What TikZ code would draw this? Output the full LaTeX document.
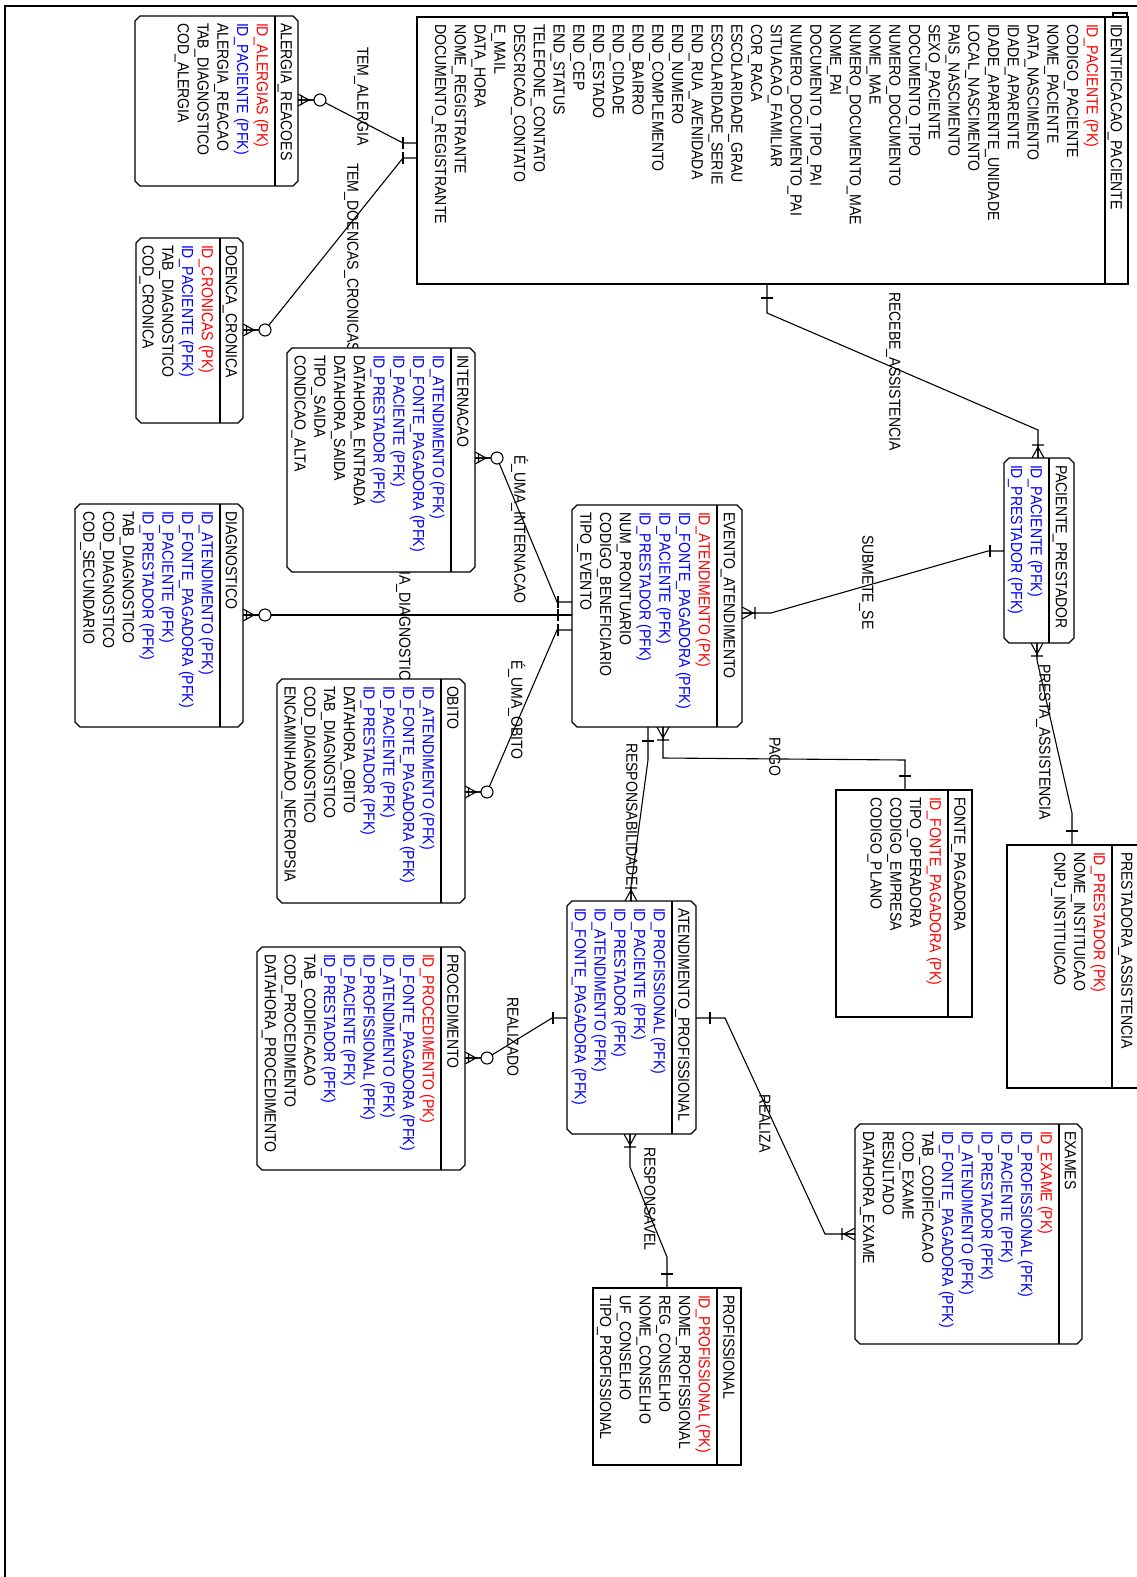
\documentclass[tikz,border=0pt]{standalone}
\usepackage{fontspec}
\setmainfont{Liberation Sans}[FakeStretch=0.88]
\usetikzlibrary{fit}

\definecolor{ckp}{RGB}{255,0,0}
\definecolor{cfk}{RGB}{0,0,255}
\definecolor{cat}{RGB}{0,0,0}

\tikzset{
  txt/.style={rotate=-90, anchor=west, inner sep=0pt, outer sep=0pt,
    text height=11.5pt, text depth=0pt, font=\fontsize{16pt}{19pt}\selectfont},
  entline/.style={line width=1.3pt, draw=black},
  conn/.style={line width=1.1pt, draw=black},
  frameline/.style={line width=2.8pt, line join=miter},
}

% entity outlines
\newcommand\drawsq[1]{\draw[entline, fill=white] (#1.north west) rectangle (#1.south east);}
\newcommand\drawch[1]{\draw[entline, fill=white]
  ([xshift=5pt]#1.north west) -- ([xshift=-5pt]#1.north east) -- ([yshift=-5pt]#1.north east)
  -- ([yshift=5pt]#1.south east) -- ([xshift=-5pt]#1.south east) -- ([xshift=5pt]#1.south west)
  -- ([yshift=5pt]#1.south west) -- ([yshift=-5pt]#1.north west) -- cycle;}

% #1 name, #2 outline (sq/ch), #3 left, #4 top, #5 right, #6 bottom, #7 title rule, #8 title, #9 rows
\newcommand\entity[9]{%
  \node[fit={(#3,#4) (#5,#6)}, inner sep=0pt, outer sep=0pt] (#1) {};
  \csname draw#2\endcsname{#1}
  \draw[entline] (#7,#4) -- (#7,#6);
  \node[txt] (#1-t) at ({(#5+#7)/2},{#4+7}) {#8};
  \foreach \c/\t [count=\i] in {#9} {
    \node[txt, text=\c] (#1-r\i) at ({#7-12.5-(\i-1)*19.75},{#4+7}) {\t};
  }%
}

% cardinality marks: #1 point on the entity edge, #2 outward direction
\newcommand\gone[2]{\begin{scope}[shift={(#1)}, rotate=#2]
  \draw[conn] (14,-6) -- (14,6);\end{scope}}
\newcommand\gmany[2]{\begin{scope}[shift={(#1)}, rotate=#2]
  \draw[conn] (0,-6) -- (11,0) -- (0,6) (0,0) -- (14,0) (13,-6) -- (13,6);\end{scope}}
\newcommand\gzero[2]{\begin{scope}[shift={(#1)}, rotate=#2]
  \draw[conn] (0,-6) -- (11,0) -- (0,6) (0,0) -- (16,0) (3.5,-5) -- (3.5,5);
  \fill (11,0) circle[radius=1.3pt];
  \draw[conn, fill=white] (22,0) circle[radius=6pt];\end{scope}}

\begin{document}
\begin{tikzpicture}[x=1pt, y=-1pt]
\useasboundingbox (0,0) rectangle (1136,1577);
\fill[white] (0,0) rectangle (1136,1577);

% page frame
\draw[frameline] (5,1580) -- (5,6) -- (1140,6);

% relationship names
\node[txt] (l-alergia) at (363,47) {TEM\_ALERGIA};
\node[txt] (l-doenca) at (353,163) {TEM\_DOENCAS\_CRONICAS};
\node[txt] (l-recebe) at (895,292) {RECEBE\_ASSISTENCIA};
\node[txt] (l-submete) at (868,535) {SUBMETE\_SE};
\node[txt] (l-intern) at (520,455) {É\_UMA\_INTERNACAO};
\node[txt] (l-diag) at (405,571.5) {IA\_DIAGNOSTICO};
\node[txt] (l-obito) at (517,660) {É\_UMA\_OBITO};
\node[txt] (l-pago) at (775,737) {PAGO};
\node[txt] (l-resp) at (632,743) {RESPONSABILIDADE};
\node[txt] (l-realizado) at (513,997) {REALIZADO};
\node[txt] (l-realiza) at (765,1094) {REALIZA};
\node[txt] (l-responsavel) at (650,1147) {RESPONSAVEL};
\node[txt] (l-presta) at (1045,664) {PRESTA\_ASSISTENCIA};

% entities
\entity{ident}{sq}{417}{17}{1128}{284}{1105}{IDENTIFICACAO\_PACIENTE}{
  ckp/ID\_PACIENTE (PK), cat/CODIGO\_PACIENTE, cat/NOME\_PACIENTE, cat/DATA\_NASCIMENTO,
  cat/IDADE\_APARENTE, cat/IDADE\_APARENTE\_UNIDADE, cat/LOCAL\_NASCIMENTO, cat/PAIS\_NASCIMENTO,
  cat/SEXO\_PACIENTE, cat/DOCUMENTO\_TIPO, cat/NUMERO\_DOCUMENTO, cat/NOME\_MAE,
  cat/NUMERO\_DOCUMENTO\_MAE, cat/NOME\_PAI, cat/DOCUMENTO\_TIPO\_PAI, cat/NUMERO\_DOCUMENTO\_PAI,
  cat/SITUACAO\_FAMILIAR, cat/COR\_RACA, cat/ESCOLARIDADE\_GRAU, cat/ESCOLARIDADE\_SERIE,
  cat/END\_RUA\_AVENIDADA, cat/END\_NUMERO, cat/END\_COMPLEMENTO, cat/END\_BAIRRO,
  cat/END\_CIDADE, cat/END\_ESTADO, cat/END\_CEP, cat/END\_STATUS, cat/TELEFONE\_CONTATO,
  cat/DESCRICAO\_CONTATO, cat/E\_MAIL, cat/DATA\_HORA, cat/NOME\_REGISTRANTE,
  cat/DOCUMENTO\_REGISTRANTE}
\draw[entline, fill=white] (1113,13) rectangle (1127,17);

\entity{alerg}{ch}{135}{16}{298}{186}{275}{ALERGIA\_REACOES}{
  ckp/ID\_ALERGIAS (PK), cfk/ID\_PACIENTE (PFK), cat/ALERGIA\_REACAO, cat/TAB\_DIAGNOSTICO,
  cat/COD\_ALERGIA}

\entity{doenca}{ch}{136}{238}{243}{423}{220}{DOENCA\_CRONICA}{
  ckp/ID\_CRONICAS (PK), cfk/ID\_PACIENTE (PFK), cat/TAB\_DIAGNOSTICO, cat/COD\_CRONICA}

\entity{intern}{ch}{287}{348}{475}{572}{451}{INTERNACAO}{
  cfk/ID\_ATENDIMENTO (PFK), cfk/ID\_FONTE\_PAGADORA (PFK), cfk/ID\_PACIENTE (PFK),
  cfk/ID\_PRESTADOR (PFK), cat/DATAHORA\_ENTRADA, cat/DATAHORA\_SAIDA, cat/TIPO\_SAIDA,
  cat/CONDICAO\_ALTA}

\entity{diag}{ch}{75}{504}{243}{727}{220}{DIAGNOSTICO}{
  cfk/ID\_ATENDIMENTO (PFK), cfk/ID\_FONTE\_PAGADORA (PFK), cfk/ID\_PACIENTE (PFK),
  cfk/ID\_PRESTADOR (PFK), cat/TAB\_DIAGNOSTICO, cat/COD\_DIAGNOSTICO, cat/COD\_SECUNDARIO}

\entity{obito}{ch}{277}{679}{465}{903}{441}{OBITO}{
  cfk/ID\_ATENDIMENTO (PFK), cfk/ID\_FONTE\_PAGADORA (PFK), cfk/ID\_PACIENTE (PFK),
  cfk/ID\_PRESTADOR (PFK), cat/DATAHORA\_OBITO, cat/TAB\_DIAGNOSTICO, cat/COD\_DIAGNOSTICO,
  cat/ENCAMINHADO\_NECROPSIA}

\entity{evento}{ch}{572}{505}{742}{727}{717}{EVENTO\_ATENDIMENTO}{
  ckp/ID\_ATENDIMENTO (PK), cfk/ID\_FONTE\_PAGADORA (PFK), cfk/ID\_PACIENTE (PFK),
  cfk/ID\_PRESTADOR (PFK), cat/NUM\_PRONTUARIO, cat/CODIGO\_BENEFICIARIO, cat/TIPO\_EVENTO}

\entity{pp}{ch}{1004}{458}{1074}{643}{1049}{PACIENTE\_PRESTADOR}{
  cfk/ID\_PACIENTE (PFK), cfk/ID\_PRESTADOR (PFK)}

\entity{prest}{sq}{1007}{845}{1142}{1088}{1112}{PRESTADORA\_ASSISTENCIA}{
  ckp/ID\_PRESTADOR (PK), cat/NOME\_INSTITUICAO, cat/CNPJ\_INSTITUICAO}

\entity{fonte}{sq}{836}{790}{972}{1017}{948}{FONTE\_PAGADORA}{
  ckp/ID\_FONTE\_PAGADORA (PK), cat/TIPO\_OPERADORA, cat/CODIGO\_EMPRESA, cat/CODIGO\_PLANO}

\entity{atprof}{ch}{567}{901}{696}{1134}{672}{ATENDIMENTO\_PROFISSIONAL}{
  cfk/ID\_PROFISSIONAL (PFK), cfk/ID\_PACIENTE (PFK), cfk/ID\_PRESTADOR (PFK),
  cfk/ID\_ATENDIMENTO (PFK), cfk/ID\_FONTE\_PAGADORA (PFK)}

\entity{proc}{ch}{257}{947}{465}{1170}{441}{PROCEDIMENTO}{
  ckp/ID\_PROCEDIMENTO (PK), cfk/ID\_FONTE\_PAGADORA (PFK), cfk/ID\_ATENDIMENTO (PFK),
  cfk/ID\_PROFISSIONAL (PFK), cfk/ID\_PACIENTE (PFK), cfk/ID\_PRESTADOR (PFK),
  cat/TAB\_CODIFICACAO, cat/COD\_PROCEDIMENTO, cat/DATAHORA\_PROCEDIMENTO}

\entity{exames}{ch}{855}{1124}{1082}{1344}{1059}{EXAMES}{
  ckp/ID\_EXAME (PK), cfk/ID\_PROFISSIONAL (PFK), cfk/ID\_PACIENTE (PFK), cfk/ID\_PRESTADOR (PFK),
  cfk/ID\_ATENDIMENTO (PFK), cfk/ID\_FONTE\_PAGADORA (PFK), cat/TAB\_CODIFICACAO,
  cat/COD\_EXAME, cat/RESULTADO, cat/DATAHORA\_EXAME}

\entity{prof}{sq}{593}{1288}{741}{1465}{717}{PROFISSIONAL}{
  ckp/ID\_PROFISSIONAL (PK), cat/NOME\_PROFISSIONAL, cat/REG\_CONSELHO, cat/NOME\_CONSELHO,
  cat/UF\_CONSELHO, cat/TIPO\_PROFISSIONAL}

% connector end points on the entity edges
\coordinate (c-alerg) at (alerg.east |- 0,100);
\coordinate (c-ident-a) at (ident.west |- 0,143);
\coordinate (c-doenca) at (doenca.east |- 0,330);
\coordinate (c-ident-d) at (ident.west |- 0,158);
\coordinate (c-ident-r) at (ident.south -| 767,0);
\coordinate (c-pp-n) at (pp.north -| 1038,0);
\coordinate (c-pp-w) at (pp.west |- 0,551);
\coordinate (c-ev-e) at (evento.east |- 0,613);
\coordinate (c-intern) at (intern.east |- 0,458);
\coordinate (c-ev-wi) at (evento.west |- 0,602);
\coordinate (c-diag) at (diag.east |- 0,615);
\coordinate (c-ev-wd) at (evento.west |- 0,615);
\coordinate (c-obito) at (obito.east |- 0,792);
\coordinate (c-ev-wo) at (evento.west |- 0,630);
\coordinate (c-ev-sp) at (evento.south -| 663,0);
\coordinate (c-fonte) at (fonte.north -| 905,0);
\coordinate (c-ev-sr) at (evento.south -| 648,0);
\coordinate (c-ap-n) at (atprof.north -| 631,0);
\coordinate (c-ap-w) at (atprof.west |- 0,1018);
\coordinate (c-proc) at (proc.east |- 0,1058);
\coordinate (c-ap-e) at (atprof.east |- 0,1018);
\coordinate (c-exam) at (exames.west |- 0,1234);
\coordinate (c-ap-s) at (atprof.south -| 630,0);
\coordinate (c-prof) at (prof.north -| 667,0);
\coordinate (c-pp-s) at (pp.south -| 1037,0);
\coordinate (c-prest) at (prest.north -| 1072,0);

% relationships
\draw[conn] (c-alerg) -- ++(22,0) -- (403,143) -- (c-ident-a);
\draw[conn] (c-doenca) -- ++(22,0) -- (403,158) -- (c-ident-d);
\draw[conn] (c-ident-r) -- (767,313) -- (1038,430) -- (c-pp-n);
\draw[conn] (c-pp-w) -- (988,551) -- (771,613) -- (c-ev-e);
\draw[conn] (c-intern) -- ++(22,0) -- (557,602) -- (c-ev-wi);
\draw[conn] (c-diag) -- (c-ev-wd);
\draw[conn] (c-obito) -- ++(22,0) -- (557,630) -- (c-ev-wo);
\draw[conn] (c-ev-sp) -- (663,758) -- (905,760) -- (c-fonte);
\draw[conn] (c-ev-sr) -- (648,760) -- (631,886) -- (c-ap-n);
\draw[conn] (c-ap-w) -- (552,1018) -- (487,1058) -- (c-proc);
\draw[conn] (c-ap-e) -- (725,1018) -- (825,1234) -- (c-exam);
\draw[conn] (c-ap-s) -- (630,1167) -- (667,1257) -- (c-prof);
\draw[conn] (c-pp-s) -- (1037,660) -- (1072,813) -- (c-prest);

% cardinalities
\gzero{c-alerg}{0}     \gone{c-ident-a}{180}
\gzero{c-doenca}{0}    \gone{c-ident-d}{180}
\gone{c-ident-r}{-90}  \gmany{c-pp-n}{90}
\gone{c-pp-w}{180}     \gmany{c-ev-e}{0}
\gzero{c-intern}{0}    \gone{c-ev-wi}{180}
\gzero{c-diag}{0}      \gone{c-ev-wd}{180}
\gzero{c-obito}{0}     \gone{c-ev-wo}{180}
\gmany{c-ev-sp}{-90}   \gone{c-fonte}{90}
\gone{c-ev-sr}{-90}    \gmany{c-ap-n}{90}
\gone{c-ap-w}{180}     \gzero{c-proc}{0}
\gone{c-ap-e}{0}       \gmany{c-exam}{180}
\gmany{c-ap-s}{-90}    \gone{c-prof}{90}
\gmany{c-pp-s}{-90}    \gone{c-prest}{90}
\end{tikzpicture}
\end{document}
